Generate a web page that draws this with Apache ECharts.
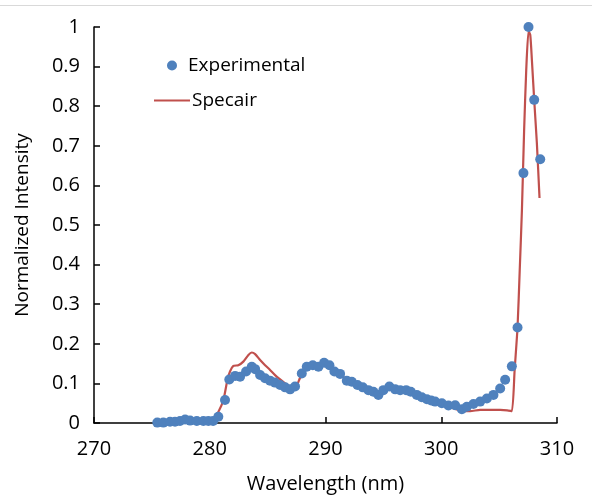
<!DOCTYPE html>
<html>
<head>
<meta charset="utf-8">
<script src="https://cdn.jsdelivr.net/npm/echarts@6/dist/echarts.min.js"></script>
<style>
html,body{margin:0;padding:0;background:#fff;}
#c{width:592px;height:495px;}
</style>
</head>
<body>
<div id="c"></div>
<script>
// Experimental data (wavelength nm, normalized intensity)
var expWavelength = [275.47,275.99,276.57,277.00,277.43,277.87,278.30,278.88,279.45,279.88,280.29,280.74,281.32,281.69,282.19,282.62,283.14,283.63,283.92,284.35,284.78,285.21,285.64,286.08,286.51,286.94,287.37,287.95,288.38,288.90,289.39,289.88,290.34,290.77,291.26,291.84,292.27,292.76,293.22,293.71,294.14,294.57,295.00,295.52,296.02,296.45,296.97,297.37,297.89,298.32,298.76,299.13,299.47,300.05,300.62,301.20,301.78,302.21,302.78,303.36,303.94,304.51,305.09,305.52,306.10,306.59,307.10,307.54,308.03,308.55];
var expIntensity = [0.001,0.001,0.003,0.003,0.005,0.009,0.006,0.005,0.005,0.005,0.005,0.016,0.058,0.110,0.119,0.117,0.130,0.142,0.136,0.121,0.113,0.107,0.102,0.096,0.090,0.085,0.092,0.125,0.142,0.146,0.142,0.152,0.146,0.130,0.124,0.107,0.104,0.096,0.090,0.083,0.079,0.071,0.083,0.092,0.085,0.083,0.083,0.079,0.071,0.065,0.060,0.057,0.054,0.050,0.044,0.045,0.035,0.041,0.048,0.054,0.062,0.071,0.087,0.109,0.143,0.241,0.631,1.000,0.816,0.666];

// Specair simulation
var simWavelength = [275.45,279.16,280.20,280.74,281.18,281.52,281.75,282.04,282.47,282.90,283.34,283.63,283.92,284.35,284.78,285.21,285.64,286.08,286.51,286.94,287.37,287.80,288.32,288.84,289.36,289.88,290.40,290.92,291.43,291.95,292.47,292.99,293.51,294.03,294.55,295.07,295.58,296.10,296.62,297.14,297.66,298.18,298.69,299.21,299.73,300.25,300.77,301.29,301.81,302.50,303.36,304.23,305.09,305.70,306.10,306.34,306.59,306.78,306.97,307.16,307.34,307.54,307.69,307.83,308.03,308.26,308.49];
var simIntensity = [0.000,0.001,0.004,0.028,0.058,0.108,0.130,0.144,0.146,0.155,0.172,0.178,0.174,0.159,0.146,0.134,0.121,0.110,0.100,0.092,0.088,0.114,0.139,0.144,0.141,0.149,0.144,0.129,0.119,0.106,0.098,0.091,0.083,0.076,0.068,0.081,0.088,0.083,0.081,0.081,0.076,0.068,0.061,0.056,0.051,0.045,0.040,0.035,0.030,0.030,0.033,0.033,0.033,0.032,0.030,0.134,0.241,0.386,0.538,0.740,0.890,0.990,0.980,0.917,0.816,0.707,0.568];

var xTicks = [270, 280, 290, 300, 310];
var yTicks = [0, 0.1, 0.2, 0.3, 0.4, 0.5, 0.6, 0.7, 0.8, 0.9, 1];

function zip(a, b) { return a.map(function (v, i) { return [v, b[i]]; }); }

var FONT = 'Open Sans';
var chart = echarts.init(document.getElementById('c'), null, {renderer: 'canvas'});
chart.setOption({
  animation: false,
  backgroundColor: '#fff',
  textStyle: {fontFamily: FONT},
  grid: {left: 94, right: 35, top: 27, bottom: 72, containLabel: false, outerBoundsMode: 'none'},
  legend: [{
    data: ['Experimental'], orient: 'vertical', left: 162, top: 51,
    icon: 'circle', itemWidth: 10, itemHeight: 10, itemGap: 10,
    textStyle: {fontFamily: FONT, fontSize: 19, color: '#000', padding: [0, 0, 0, 6]}
  }, {
    data: [{name: 'Specair', icon: 'rect', itemStyle: {color: '#c0504d'}}],
    orient: 'vertical', left: 149, top: 86,
    itemWidth: 36, itemHeight: 2.2, itemGap: 0,
    textStyle: {fontFamily: FONT, fontSize: 19, color: '#000', padding: [0, 0, 0, -3]}
  }],
  xAxis: {
    type: 'value', min: xTicks[0], max: xTicks[xTicks.length - 1], interval: 10,
    name: 'Wavelength (nm)', nameLocation: 'middle', nameGap: 51,
    nameTextStyle: {fontFamily: FONT, fontSize: 20, color: '#000'},
    axisLine: {lineStyle: {color: '#000', width: 1.5}},
    axisTick: {inside: true, length: 6, lineStyle: {color: '#000', width: 1.5}},
    axisLabel: {fontFamily: FONT, fontSize: 20, color: '#000', margin: 16},
    splitLine: {show: false}
  },
  yAxis: {
    type: 'value', min: yTicks[0], max: yTicks[yTicks.length - 1], interval: 0.1,
    name: 'Normalized Intensity', nameLocation: 'middle', nameGap: 62,
    nameTextStyle: {fontFamily: FONT, fontSize: 19, color: '#000'},
    axisLine: {show: true, lineStyle: {color: '#000', width: 1.5}},
    axisTick: {show: true, inside: true, length: 6, lineStyle: {color: '#000', width: 1.5}},
    axisLabel: {fontFamily: FONT, fontSize: 20, color: '#000', margin: 14},
    splitLine: {show: false}
  },
  series: [{
    name: 'Specair', type: 'line', data: zip(simWavelength, simIntensity),
    showSymbol: false, symbol: 'none', smooth: 0.2,
    lineStyle: {color: '#c0504d', width: 2.2}, itemStyle: {color: '#c0504d'}, z: 2
  }, {
    name: 'Experimental', type: 'scatter', data: zip(expWavelength, expIntensity),
    symbolSize: 10, itemStyle: {color: '#4f81bd', opacity: 1}, z: 3
  }],
  graphic: [{
    type: 'line', shape: {x1: 0, y1: 5.5, x2: 592, y2: 5.5},
    style: {stroke: '#d9d9d9', lineWidth: 1}, silent: true
  }]
});
</script>
</body>
</html>
